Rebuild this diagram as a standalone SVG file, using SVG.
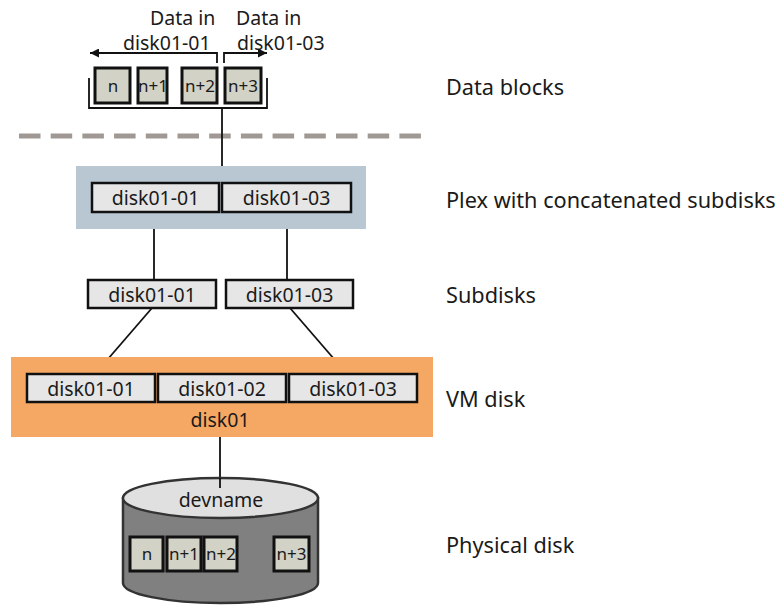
<svg xmlns="http://www.w3.org/2000/svg" width="779" height="606" viewBox="0 0 779 606">
<defs>
<style>
text{font-family:"Noto Sans","DejaVu Sans",sans-serif;fill:#1a1a1a}
.lbl{font-size:21.7px}
.dk{font-size:19.5px;text-anchor:middle}
.sm{font-size:17px;text-anchor:middle}
.box{fill:#e6e6e6;stroke:#111;stroke-width:2.5}
.blk{fill:#d2d2c6;stroke:#111;stroke-width:3}
.ln{stroke:#111;stroke-width:1.8;fill:none}
</style>
<marker id="ah" viewBox="0 0 10 10" refX="10" refY="5" markerWidth="11" markerHeight="9" markerUnits="userSpaceOnUse" orient="auto">
<path d="M0,0 L10,5 L0,10 z" fill="#111"/>
</marker>
</defs>
<rect width="779" height="606" fill="#fff"/>

<line x1="19" y1="136" x2="421" y2="136" stroke="#a09894" stroke-width="5" stroke-dasharray="21.5 10.2"/>

<g id="connectors">
<line class="ln" x1="222" y1="108" x2="222" y2="166"/>
<line class="ln" x1="154" y1="212" x2="154" y2="280"/>
<line class="ln" x1="287" y1="212" x2="287" y2="280"/>
<line class="ln" x1="152" y1="308" x2="95" y2="374"/>
<line class="ln" x1="290" y1="308" x2="347" y2="374"/>
<line class="ln" x1="220" y1="437" x2="220" y2="488"/>
</g>

<g id="data-blocks">
<text x="150" y="25" style="font-size:19.5px">Data in</text>
<text x="123" y="50" style="font-size:19.5px">disk01-01</text>
<text x="236" y="25" style="font-size:19.5px">Data in</text>
<text x="237" y="50" style="font-size:19.5px">disk01-03</text>
<path class="ln" d="M217,63 V53 H90" marker-end="url(#ah)"/>
<path class="ln" d="M224,63 V53 H267" marker-end="url(#ah)"/>
<rect class="blk" x="95" y="68" width="35" height="35"/>
<rect class="blk" x="138" y="68" width="29" height="35"/>
<rect class="blk" x="182" y="68" width="35" height="35"/>
<rect class="blk" x="225" y="68" width="36" height="35"/>
<text class="sm" x="113" y="92">n</text>
<text class="sm" x="153" y="92">n+1</text>
<text class="sm" x="200" y="92">n+2</text>
<text class="sm" x="243" y="92">n+3</text>
<path class="ln" d="M89,78 V108 H267 V78"/>
</g>

<g id="plex">
<rect x="76" y="166" width="290" height="63" fill="#b8c7d2"/>
<rect class="box" x="92" y="183" width="127" height="29"/>
<rect class="box" x="222" y="183" width="129" height="29"/>
<text class="dk" x="155.5" y="205">disk01-01</text>
<text class="dk" x="286.5" y="205">disk01-03</text>
</g>

<g id="subdisks">
<rect class="box" x="88" y="280" width="128" height="28"/>
<rect class="box" x="226" y="280" width="127" height="28"/>
<text class="dk" x="152" y="302">disk01-01</text>
<text class="dk" x="289.5" y="302">disk01-03</text>
</g>

<g id="vmdisk">
<rect x="11" y="357" width="422" height="80" fill="#f5a864"/>
<rect class="box" x="27" y="374" width="128" height="28"/>
<rect class="box" x="158" y="374" width="128" height="28"/>
<rect class="box" x="289" y="374" width="128" height="28"/>
<text class="dk" x="91" y="396">disk01-01</text>
<text class="dk" x="222" y="396">disk01-02</text>
<text class="dk" x="353" y="396">disk01-03</text>
<text class="dk" x="220" y="427">disk01</text>
</g>

<g id="physical">
<path d="M123,498 V583 A97.5,20 0 0 0 318,583 V498 Z" fill="#808080" stroke="#333" stroke-width="2.5"/>
<ellipse cx="220.5" cy="498" rx="97.5" ry="20" fill="#e0e0e0" stroke="#333" stroke-width="2.5"/>
<line class="ln" x1="220" y1="478" x2="220" y2="488"/>
<text class="dk" x="221" y="507">devname</text>
<rect class="blk" x="130" y="537" width="33" height="34"/>
<rect class="blk" x="167" y="537" width="34" height="34"/>
<rect class="blk" x="204" y="537" width="33" height="34"/>
<rect class="blk" x="274" y="537" width="35" height="34"/>
<text class="sm" x="147" y="560">n</text>
<text class="sm" x="184" y="560">n+1</text>
<text class="sm" x="221" y="560">n+2</text>
<text class="sm" x="291.5" y="560">n+3</text>
</g>

<g id="labels">
<text class="lbl" x="446" y="95">Data blocks</text>
<text class="lbl" x="446" y="208">Plex with concatenated subdisks</text>
<text class="lbl" x="446" y="303">Subdisks</text>
<text class="lbl" x="446" y="407">VM disk</text>
<text class="lbl" x="446" y="553">Physical disk</text>
</g>
</svg>
